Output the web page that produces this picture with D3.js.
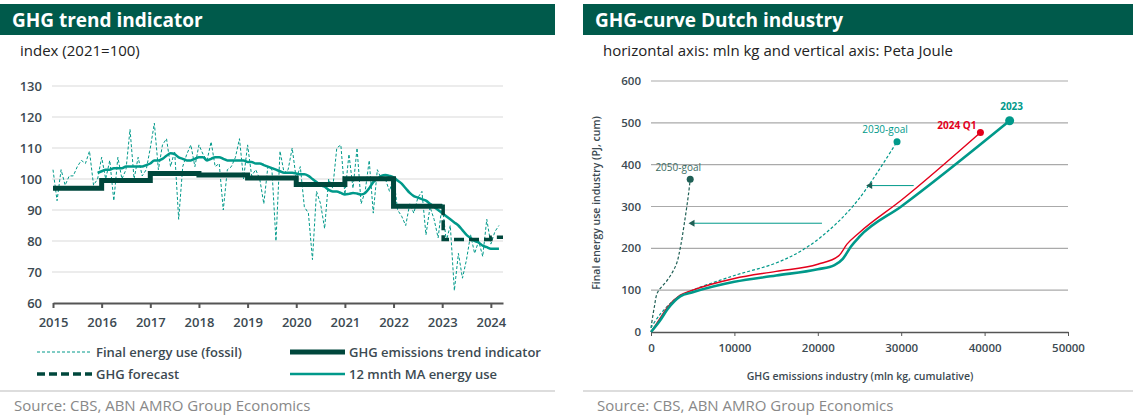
<!DOCTYPE html>
<html><head><meta charset="utf-8">
<script src="https://cdn.jsdelivr.net/npm/d3@7"></script>
<style>body{margin:0;background:#fff;font-family:"Open Sans",sans-serif}</style>
</head><body><svg id="c" width="1135" height="418"></svg>
<script>
// monthly, Jan 2015 .. Mar 2024
const energyUse = [103,93,103,98,101,101,104,106,105,109,98,100,
  107,100,106,93,107,100,103,116,100,107,101,103,
  110,118,103,111,113,104,109,87,104,108,111,104,
  111,108,106,112,104,105,90,103,104,107,113,100,
  111,101,103,100,92,104,103,80,109,102,103,110,
  100,104,91,89,74,96,92,84,100,97,110,111,
  95,108,97,110,92,96,106,89,103,100,100,96,
  101,90,88,85,92,89,94,96,82,91,87,81,
  92,80,85,64,76,68,74,82,76,80,75,87,
  79,83,85];
// 12 month MA, Dec 2015 .. Mar 2024
const maEnergy = [102,102.5,103,103,103.5,103.5,103.5,104,104,104,104,104,104.5,
  105,106,106,106.5,107.5,108.3,108,107,106.5,106,106,106.5,
  107,107,106,106.5,107,107,106.5,106,106,106,106,106,
  105.5,105.5,105,105,104.5,104,103.5,103,102.5,102,102,102,
  101.8,101.5,101.5,101,100,99,98,97.5,96.5,96,96,95.5,
  95,95.2,95.5,95.3,95,95.5,97,99,100,101,101.3,101,
  100.5,99.5,98.5,97,95.5,94.5,94,93.5,93,92,91,90,
  89,88,87,86,85,83.5,82,81,80,79.5,78.5,78,
  77.5,77.5,77.5];
const trendYears = [2015,2016,2017,2018,2019,2020,2021,2022,2023];
const trendValues = [97,99.5,101.8,101.3,100.3,98.2,100.1,91.2,91.2];
const forecastX = [2023,2023.02,2024,2024.25];
const forecastY = [91.2,80.5,81.2,81.2];
const leftTicksX = [2015,2016,2017,2018,2019,2020,2021,2022,2023,2024];
const leftTicksY = [60,70,80,90,100,110,120,130];

const curve2023 = [[0,0],[1000,25],[2000,55],[3500,85],[5000,95],[10000,120],[15000,135],[20000,150],[22000,160],[23000,175],[24000,205],[25000,228],[30000,300],[43000,505]];
const curve2024 = [[0,0],[1000,30],[2000,60],[3500,88],[5000,100],[10000,128],[15000,145],[20000,162],[22500,182],[23500,210],[25000,238],[30000,315],[39500,477]];
const goal2030 = [[0,10],[1000,40],[3000,80],[5000,100],[10000,135],[15000,165],[18500,200],[22000,255],[25000,320],[29500,455]];
const goal2050 = [[0,10],[400,60],[800,95],[2000,125],[3000,160],[3500,200],[4000,260],[4500,330],[4700,365]];
const arrows = [[20500,4500,260],[31500,25800,350]];
const rightTicksX = [0,10000,20000,30000,40000,50000];
const rightTicksY = [0,100,200,300,400,500,600];

const DARK = "#00473c", TEAL = "#00998a", RED = "#e3001b", GRID = "#d9d9d9", TXT = "#3c4a52";
const svg = d3.select("#c");

function header(x, w, title, sub) {
  svg.append("rect").attr("x", x).attr("y", 4).attr("width", w).attr("height", 31).attr("fill", "#005a4b");
  svg.append("text").attr("x", x + 12).attr("y", 27).attr("fill", "#fff").attr("font-size", 19).attr("font-weight", "bold").text(title);
  svg.append("text").attr("x", x + 20).attr("y", 56).attr("fill", "#222").attr("font-size", 15).text(sub);
  svg.append("line").attr("x1", x).attr("x2", x + w).attr("y1", 391).attr("y2", 391).attr("stroke", "#bbb");
  svg.append("text").attr("x", x + 14).attr("y", 411).attr("fill", "#888").attr("font-size", 15).text("Source: CBS, ABN AMRO Group Economics");
}
header(0, 555, "GHG trend indicator", "index (2021=100)");
header(583, 550, "GHG-curve Dutch industry", "horizontal axis: mln kg and vertical axis: Peta Joule");

// ---- left chart
const x = d3.scaleLinear().domain([2015, 2024.25]).range([53, 503]);
const y = d3.scaleLinear().domain([60, 130]).range([303, 86]);
const gl = svg.append("g");
leftTicksY.forEach(v => {
  gl.append("line").attr("x1", 52).attr("x2", 503).attr("y1", y(v)).attr("y2", y(v)).attr("stroke", GRID).attr("stroke-width", v === 60 ? 0 : 1.2);
  gl.append("text").attr("x", 42).attr("y", y(v) + 5).attr("text-anchor", "end").attr("font-size", 13).attr("font-weight", 600).attr("fill", TXT).text(v);
});
gl.append("g").attr("transform", `translate(0,${y(60)})`)
  .call(d3.axisBottom(x).tickValues(leftTicksX).tickFormat(d3.format("d")).tickSize(5).tickSizeOuter(0))
  .call(g => { g.select(".domain").attr("stroke", "#555").attr("stroke-width", 2);
    g.selectAll("line").attr("stroke", "#555").attr("stroke-width", 2);
    g.selectAll("text").attr("font-size", 13).attr("font-weight", 600).attr("fill", TXT).attr("dy", "1.2em").attr("font-family", "Open Sans"); });

const mx = i => 2015 + i / 12;
gl.append("path").datum(energyUse).attr("fill", "none").attr("stroke", TEAL).attr("stroke-width", 1).attr("stroke-dasharray", "3,2")
  .attr("d", d3.line().x((d, i) => x(mx(i))).y(d => y(d)));
gl.append("path").datum(maEnergy).attr("fill", "none").attr("stroke", TEAL).attr("stroke-width", 2.5)
  .attr("d", d3.line().x((d, i) => x(mx(i + 11))).y(d => y(d)).curve(d3.curveMonotoneX));
gl.append("path").datum(trendYears.map((t, i) => [t, trendValues[i]]).concat([[2023, 91.2]])).attr("fill", "none").attr("stroke", DARK).attr("stroke-width", 5)
  .attr("d", d3.line().x(d => x(d[0])).y(d => y(d[1])).curve(d3.curveStepAfter));
gl.append("path").datum(forecastX.map((t, i) => [t, forecastY[i]])).attr("fill", "none").attr("stroke", DARK).attr("stroke-width", 3.5).attr("stroke-dasharray", "10,5")
  .attr("d", d3.line().x(d => x(d[0])).y(d => y(d[1])).curve(d3.curveStepAfter));

const leg = [["Final energy use (fossil)", TEAL, 1, "3,2", 37, 352], ["GHG emissions trend indicator", DARK, 5, null, 290, 352],
             ["GHG forecast", DARK, 3.5, "8,4", 37, 374], ["12 mnth MA energy use", TEAL, 2.5, null, 290, 374]];
leg.forEach(([t, c, w, da, lx, ly]) => {
  svg.append("line").attr("x1", lx).attr("x2", lx + 55).attr("y1", ly).attr("y2", ly).attr("stroke", c).attr("stroke-width", w).attr("stroke-dasharray", da);
  svg.append("text").attr("x", lx + 59).attr("y", ly + 5).attr("font-size", 13).attr("font-weight", 600).attr("fill", TXT).text(t);
});

// ---- right chart
const rx = d3.scaleLinear().domain([0, 50000]).range([651, 1068]);
const ry = d3.scaleLinear().domain([0, 600]).range([332, 81]);
const gr = svg.append("g");
rightTicksY.forEach(v => {
  if (v > 0) gr.append("line").attr("x1", 651).attr("x2", 1068).attr("y1", ry(v)).attr("y2", ry(v)).attr("stroke", "#aaa").attr("stroke-width", 1.2);
  gr.append("text").attr("x", 641).attr("y", ry(v) + 4).attr("text-anchor", "end").attr("font-size", 11.5).attr("font-weight", 600).attr("fill", TXT).text(v);
});
gr.append("g").attr("transform", `translate(0,${ry(0)})`)
  .call(d3.axisBottom(rx).tickValues(rightTicksX).tickSize(4).tickSizeOuter(0).tickFormat(d3.format("d")))
  .call(g => { g.select(".domain").attr("stroke", "#555").attr("stroke-width", 1.5);
    g.selectAll("line").attr("stroke", "#555");
    g.selectAll("text").attr("font-size", 11.5).attr("font-weight", 600).attr("fill", TXT).attr("dy", "1.1em").attr("font-family", "Open Sans"); });
gr.append("text").attr("x", 860).attr("y", 380).attr("text-anchor", "middle").attr("font-size", 10.5).attr("font-weight", 600).attr("fill", TXT).text("GHG emissions industry (mln kg, cumulative)");
gr.append("text").attr("transform", "translate(600,203) rotate(-90)").attr("text-anchor", "middle").attr("font-size", 10.5).attr("font-weight", 600).attr("fill", TXT).text("Final energy use industry (PJ, cum)");

const rl = d3.line().x(d => rx(d[0])).y(d => ry(d[1])).curve(d3.curveMonotoneX);
const rlC = d3.line().x(d => rx(d[0])).y(d => ry(d[1])).curve(d3.curveCatmullRom);
gr.append("path").datum(goal2050).attr("fill", "none").attr("stroke", "#1f5f55").attr("stroke-width", 1.2).attr("stroke-dasharray", "3,2").attr("d", rlC);
gr.append("path").datum(goal2030).attr("fill", "none").attr("stroke", TEAL).attr("stroke-width", 1.2).attr("stroke-dasharray", "3,2").attr("d", rlC);
gr.append("path").datum(curve2024).attr("fill", "none").attr("stroke", RED).attr("stroke-width", 1.4).attr("d", rl);
gr.append("path").datum(curve2023).attr("fill", "none").attr("stroke", TEAL).attr("stroke-width", 2.6).attr("d", rl);

const ends = [[goal2050, "#1f5f55", 3.5, "2050-goal", "#3c6b63", 400, -8], [goal2030, TEAL, 3.5, "2030-goal", TEAL, 400, -9],
              [curve2024, RED, 3.5, "2024 Q1", RED, 700, -3], [curve2023, TEAL, 4.5, "2023", TEAL, 700, -11]];
ends.forEach(([d, c, r, t, tc, fw, dy]) => {
  const p = d[d.length - 1];
  gr.append("circle").attr("cx", rx(p[0])).attr("cy", ry(p[1])).attr("r", r).attr("fill", c);
  gr.append("text").attr("x", rx(p[0]) + (t === "2024 Q1" ? -4 : t === "2023" ? 2 : -12)).attr("y", ry(p[1]) + dy)
    .attr("text-anchor", t === "2024 Q1" ? "end" : "middle").attr("font-size", 10).attr("font-weight", fw).attr("fill", tc).text(t);
});
arrows.forEach(([a, b, v]) => {
  gr.append("line").attr("x1", rx(a)).attr("x2", rx(b) + 4).attr("y1", ry(v)).attr("y2", ry(v)).attr("stroke", TEAL).attr("stroke-width", 1);
  gr.append("path").attr("d", `M${rx(b)},${ry(v)} l6,-3.5 l0,7 z`).attr("fill", "#1f5f55");
});
</script></body></html>
